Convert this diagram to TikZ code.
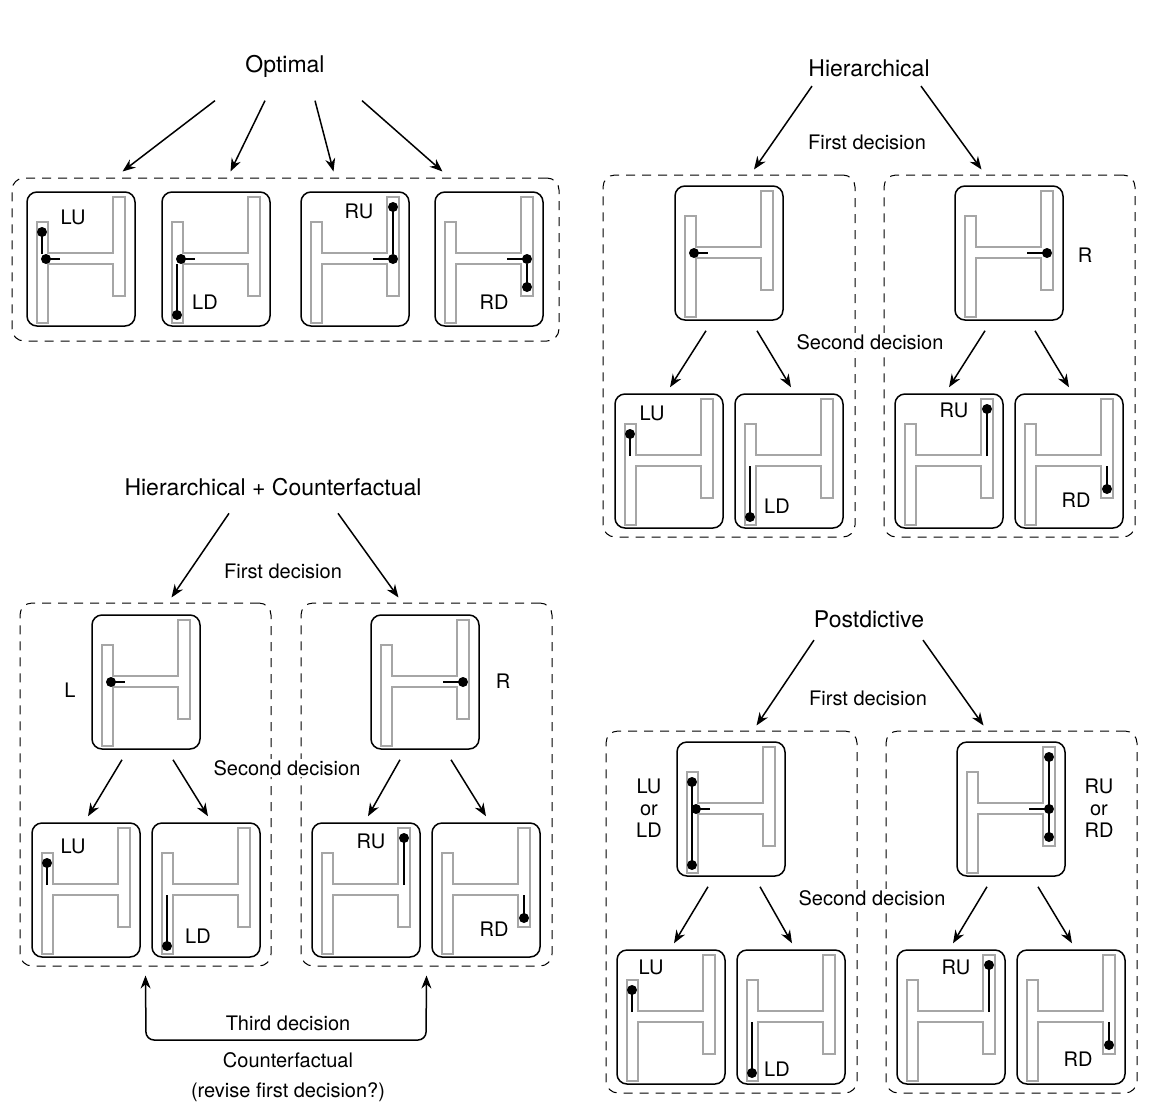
\documentclass[tikz,border=0pt]{standalone}
\usepackage{fontspec}
\setmainfont{TeX Gyre Heros}
\usetikzlibrary{arrows.meta}
\usetikzlibrary{positioning}

\tikzset{
  mbox/.style={draw,line width=1.5pt,rounded corners=10pt,minimum width=108pt,minimum height=134pt,inner sep=0pt},
  cont/.style={draw,dashed,dash pattern=on 9pt off 7pt,line width=1pt,rounded corners=12pt,inner sep=0pt},
  maze/.style={draw=gray!70,line width=1.6pt},
  trace/.style={line width=1.6pt},
  arr/.style={line width=1.5pt,-{Stealth[length=13pt,width=10pt]}},
  ttl/.style={font=\fontsize{23}{27}\selectfont},
  lbl/.style={font=\fontsize{20}{23}\selectfont,align=center}
}

% one maze box, top-left corner at (#2,#3)
\newcommand\mz[4]{%
  \node[mbox] (#1) at (#2+54,#3+67) {};
  \begin{scope}[shift={(#2,#3)}]
    \draw[maze] (10,30) -- (21,30) -- (21,61) -- (86,61) -- (86,5) -- (98,5) -- (98,104)
      -- (86,104) -- (86,72) -- (21,72) -- (21,131) -- (10,131) -- cycle;
    #4
  \end{scope}}
\newcommand\jl{\draw[trace] (19,67) -- (33,67); \fill (19,67) circle (5);}
\newcommand\jr{\draw[trace] (92,67) -- (72,67); \fill (92,67) circle (5);}
\newcommand\lu{\draw[trace] (15,62) -- (15,40); \fill (15,40) circle (5);}
\newcommand\ld{\draw[trace] (15,72) -- (15,123); \fill (15,123) circle (5);}
\newcommand\ru{\draw[trace] (92,62) -- (92,15); \fill (92,15) circle (5);}
\newcommand\rd{\draw[trace] (92,72) -- (92,95); \fill (92,95) circle (5);}

\begin{document}
\begin{tikzpicture}[x=1pt,y=-1pt]
\useasboundingbox (0,0) rectangle (1170,1106);

% Optimal
\node[ttl] (opt) at (285,66) {Optimal};
\node[cont,minimum width=547pt,minimum height=163pt] (optc) at (285.5,259.5) {};
\mz{o1}{27}{192}{\jl\lu}
\mz{o2}{162}{192}{\jl\ld}
\mz{o3}{301}{192}{\jr\ru}
\mz{o4}{435}{192}{\jr\rd}
\node[lbl] (o1t) at (73,217) {LU};
\node[lbl] (o2t) at (205,302) {LD};
\node[lbl] (o3t) at (359,211) {RU};
\node[lbl] (o4t) at (494,302) {RD};
\draw[arr] ([shift={(-70,20)}]opt.south) -- ([shift={(-163,-6)}]optc.north);
\draw[arr] ([shift={(-20,20)}]opt.south) -- ([shift={(-55,-6)}]optc.north);
\draw[arr] ([shift={(30,20)}]opt.south) -- ([shift={(48,-6)}]optc.north);
\draw[arr] ([shift={(77,20)}]opt.south) -- ([shift={(157,-6)}]optc.north);

% Hierarchical
\node[ttl] (hie) at (869,68) {Hierarchical};
\node[lbl] (hfd) at (867,142) {First decision};
\node[cont,minimum width=252pt,minimum height=362pt] (hcl) at (729,356) {};
\node[cont,minimum width=251pt,minimum height=362pt] (hcr) at (1009.5,356) {};
\mz{hl}{675}{186}{\jl}
\mz{hr}{955}{186}{\jr}
\node[lbl] (hrt) at (1085,255) {R};
\node[lbl,fill=white,inner sep=1pt] (hsd) at (870,342) {Second decision};
\mz{h1}{615}{394}{\lu}
\mz{h2}{735}{394}{\ld}
\mz{h3}{895}{394}{\ru}
\mz{h4}{1015}{394}{\rd}
\node[lbl] (h1t) at (652,413) {LU};
\node[lbl] (h2t) at (777,506) {LD};
\node[lbl] (h3t) at (954,410) {RU};
\node[lbl] (h4t) at (1076,500) {RD};
\draw[arr] ([shift={(-57,6)}]hie.south) -- ([shift={(25,-5)}]hcl.north);
\draw[arr] ([shift={(52,6)}]hie.south) -- ([shift={(-28,-5)}]hcr.north);
\draw[arr] ([shift={(-23,10)}]hl.south) -- ([shift={(1,-6)}]h1.north);
\draw[arr] ([shift={(28,10)}]hl.south) -- ([shift={(2,-6)}]h2.north);
\draw[arr] ([shift={(-24,10)}]hr.south) -- ([shift={(0,-6)}]h3.north);
\draw[arr] ([shift={(26,10)}]hr.south) -- ([shift={(0,-6)}]h4.north);

% Hierarchical + Counterfactual
\node[ttl] (hc) at (273,487) {Hierarchical + Counterfactual};
\node[lbl] (cfd) at (283,571) {First decision};
\node[cont,minimum width=251pt,minimum height=363pt] (ccl) at (145.5,784.5) {};
\node[cont,minimum width=251pt,minimum height=363pt] (ccr) at (426.5,784.5) {};
\mz{cl}{92}{615}{\jl}
\mz{cr}{371}{615}{\jr}
\node[lbl] (clt) at (70,690) {L};
\node[lbl] (crt) at (503,681) {R};
\node[lbl,fill=white,inner sep=1pt] (csd) at (287,768) {Second decision};
\mz{c1}{32}{823}{\lu}
\mz{c2}{152}{823}{\ld}
\mz{c3}{312}{823}{\ru}
\mz{c4}{432}{823}{\rd}
\node[lbl] (c1t) at (73,846) {LU};
\node[lbl] (c2t) at (198,936) {LD};
\node[lbl] (c3t) at (371,841) {RU};
\node[lbl] (c4t) at (494,929) {RD};
\draw[arr] ([shift={(-44,14)}]hc.south) -- ([shift={(26,-5)}]ccl.north);
\draw[arr] ([shift={(65,14)}]hc.south) -- ([shift={(-28,-5)}]ccr.north);
\draw[arr] ([shift={(-24,10)}]cl.south) -- ([shift={(2,-6)}]c1.north);
\draw[arr] ([shift={(27,10)}]cl.south) -- ([shift={(2,-6)}]c2.north);
\draw[arr] ([shift={(-25,10)}]cr.south) -- ([shift={(2,-6)}]c3.north);
\draw[arr] ([shift={(26,10)}]cr.south) -- ([shift={(0,-6)}]c4.north);
\coordinate (cbl) at (146,1040);
\coordinate (cbr) at (426,1040);
\draw[line width=1.5pt,rounded corners=8pt,{Stealth[length=13pt,width=10pt]}-{Stealth[length=13pt,width=10pt]}]
  ([shift={(0,9)}]ccl.south) -- (cbl) -- (cbr) -- ([shift={(0,9)}]ccr.south);
\node[lbl] (ctd) at (288,1023) {Third decision};
\node[lbl] (ccf) at (288,1060) {Counterfactual};
\node[lbl] (crv) at (288,1092) {(revise first decision?)};

% Postdictive
\node[ttl] (pd) at (869,619) {Postdictive};
\node[lbl] (pfd) at (868,698) {First decision};
\node[cont,minimum width=251pt,minimum height=362pt] (pcl) at (731.5,912) {};
\node[cont,minimum width=251pt,minimum height=362pt] (pcr) at (1011.5,912) {};
\mz{pl}{677}{742}{\draw[trace] (15,40) -- (15,123); \fill (15,40) circle (5); \fill (15,123) circle (5); \jl}
\mz{pr}{957}{742}{\draw[trace] (92,15) -- (92,95); \fill (92,15) circle (5); \fill (92,95) circle (5); \jr}
\node[lbl] (plt) at (649,808) {LU\\[-1pt]or\\[-1pt]LD};
\node[lbl] (prt) at (1099,808) {RU\\[-1pt]or\\[-1pt]RD};
\node[lbl,fill=white,inner sep=1pt] (psd) at (872,898) {Second decision};
\mz{p1}{617}{950}{\lu}
\mz{p2}{737}{950}{\ld}
\mz{p3}{897}{950}{\ru}
\mz{p4}{1017}{950}{\rd}
\node[lbl] (p1t) at (651,967) {LU};
\node[lbl] (p2t) at (777,1069) {LD};
\node[lbl] (p3t) at (956,967) {RU};
\node[lbl] (p4t) at (1078,1059) {RD};
\draw[arr] ([shift={(-55,9)}]pd.south) -- ([shift={(25,-5)}]pcl.north);
\draw[arr] ([shift={(54,9)}]pd.south) -- ([shift={(-28,-5)}]pcr.north);
\draw[arr] ([shift={(-23,10)}]pl.south) -- ([shift={(3,-6)}]p1.north);
\draw[arr] ([shift={(29,10)}]pl.south) -- ([shift={(1,-6)}]p2.north);
\draw[arr] ([shift={(-24,10)}]pr.south) -- ([shift={(2,-6)}]p3.north);
\draw[arr] ([shift={(27,10)}]pr.south) -- ([shift={(1,-6)}]p4.north);
\end{tikzpicture}
\end{document}
